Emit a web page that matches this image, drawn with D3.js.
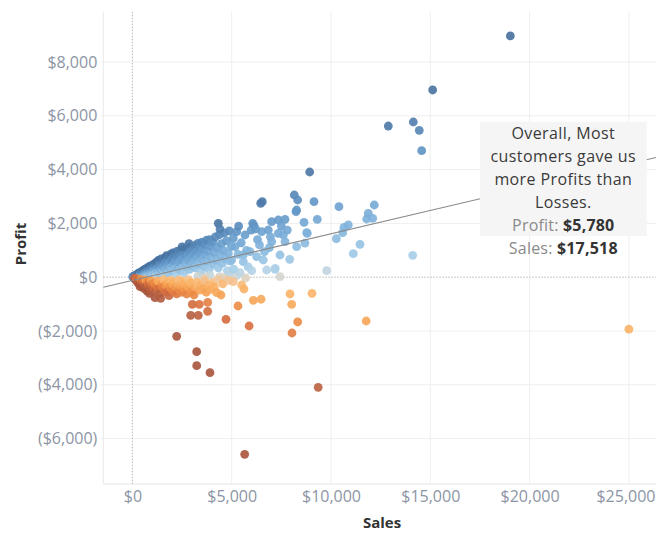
<!DOCTYPE html>
<html><head><meta charset="utf-8">
<script src="https://cdn.jsdelivr.net/npm/d3@7"></script>
<style>body{margin:0;background:#fff}svg{display:block}</style>
</head><body>
<svg id="chart" width="656" height="533"></svg>
<script>
// ---------- data ----------
const xTicks = [0, 5000, 10000, 15000, 20000, 25000];
const yTicks = [-6000, -4000, -2000, 0, 2000, 4000, 6000, 8000];
const xTitle = "Sales";
const yTitle = "Profit";

// [sales, profit] per customer
const customers = [
  // blue cluster, sales 0-600
  [20,8],[45,15],[60,30],[75,12],[90,40],[110,22],[130,55],[150,35],[170,70],[190,48],
  [210,90],[230,60],[250,110],[270,30],[290,130],[310,80],[330,150],[350,45],[370,170],[390,110],
  [410,60],[430,190],[450,140],[470,85],[490,220],[510,30],[530,160],[550,250],[570,100],[590,200],
  // 600-1200
  [620,290],[640,140],[660,60],[680,230],[700,320],[720,180],[740,90],[760,350],[780,260],[800,140],
  [820,40],[840,390],[860,210],[880,300],[900,110],[920,420],[940,250],[960,170],[980,360],[1000,70],
  [1020,450],[1040,300],[1060,200],[1080,120],[1100,500],[1120,380],[1140,260],[1160,150],[1180,470],[1200,30],
  // 1200-2000
  [1220,560],[1250,330],[1280,210],[1300,620],[1330,430],[1360,120],[1390,540],[1420,300],[1450,680],[1480,470],
  [1510,200],[1540,610],[1570,390],[1600,90],[1630,720],[1660,520],[1690,280],[1720,800],[1750,600],[1780,420],
  [1810,160],[1840,760],[1870,540],[1900,340],[1930,860],[1960,650],[1990,230],
  // 2000-3000
  [2030,900],[2060,720],[2090,480],[2120,310],[2150,830],[2180,600],[2210,120],[2240,960],[2270,750],[2300,420],
  [2330,880],[2360,560],[2390,260],[2420,1000],[2450,790],[2480,640],[2510,350],[2540,930],[2570,700],[2600,180],
  [2630,1050],[2660,850],[2690,520],[2720,960],[2750,400],[2780,780],[2810,1080],[2840,620],[2870,290],[2900,900],
  [2930,1120],[2960,700],[2990,450],[2500,1130],[2850,1250],
  // 3000-4000
  [3020,1000],[3060,820],[3100,560],[3140,1180],[3180,350],[3220,940],[3260,700],[3300,1260],[3340,480],[3380,1080],
  [3420,860],[3460,200],[3500,1300],[3540,640],[3580,1000],[3620,420],[3660,1200],[3700,780],[3740,1380],[3780,560],
  [3820,950],[3860,300],[3900,1400],[3940,1150],[3980,700],
  // 4000-5000
  [4040,1300],[4080,480],[4130,900],[4180,1500],[4230,620],[4280,1100],[4330,350],[4380,1580],[4430,820],[4480,1250],
  [4530,520],[4580,1000],[4630,1650],[4680,700],[4730,1350],[4780,240],[4830,900],[4880,1720],[4930,600],[4980,1150],
  [4326,2004],[4411,1792],
  // near-zero, 3000-6000
  [3300,40],[3900,80],[4400,20],[4900,150],[5250,60],[5700,-30],[4600,-40],[3650,-20],
  // 5000-6000
  [5000,639],[5080,1450],[5166,1134],[5252,1691],[5320,850],[5418,167],[5480,1280],[5584,825],[5584,576],[5670,1569],
  [5750,1000],[5830,380],[5922,948],[5980,1750],[5100,300],[5350,1900],
  // 6000-7000
  [6007,242],[6057,2004],[6122,1915],[6258,762],[6300,1400],[6460,2747],[6541,2807],[6510,1691],[6591,639],[6762,268],
  [6843,1755],[6900,1100],[6950,1500],[7013,2063],[7013,1320],[6200,1800],[6400,1200],[6650,950],
  // 7000-10000
  [7180,294],[7190,330],[7347,2126],[7347,1632],[7432,19],[7432,825],[7600,1569],[7684,2152],[7684,1320],[7920,665],
  [8152,3056],[8237,2435],[8271,1134],[8271,2498],[8322,2870],[8640,2041],[8690,1270],[8776,1654],[8807,1632],[8927,3911],
  [9144,2807],[9310,2152],[9783,242],[7500,1900],[7800,1750],
  // 10000-15000
  [10270,1430],[10400,2620],[10589,1654],[10655,1855],[10871,1941],[11123,874],[11460,1223],[11797,2164],[11878,2375],[12100,2190],
  [12180,2684],[14114,814],
  // top outliers
  [12885,5620],[14145,5770],[14445,5460],[14567,4703],[15120,6960],[19030,8970],
  // losses near origin
  [100,-40],[150,-90],[200,-60],[250,-180],[300,-120],[350,-260],[383,-353],[420,-80],[460,-210],[500,-320],
  [540,-150],[580,-420],[620,-260],[660,-100],[700,-350],[740,-520],[780,-190],[820,-300],[860,-600],[900,-440],
  [950,-140],[1000,-280],[1050,-380],[1100,-220],[1138,-762],[1180,-500],[1230,-330],[1280,-150],[1330,-420],[1380,-600],
  [1425,-785],[1480,-260],[1530,-380],[1580,-90],[1630,-480],[1680,-300],[1730,-560],[1780,-200],[1843,-688],[1880,-350],
  [1930,-120],[1980,-450],
  // losses 2000-3000
  [2030,-280],[2080,-520],[2130,-180],[2180,-380],[2230,-620],[2280,-240],[2330,-100],[2380,-460],[2430,-300],[2480,-560],
  [2530,-150],[2580,-400],[2630,-250],[2680,-480],[2734,-624],[2780,-320],[2830,-90],[2880,-420],[2930,-200],[2980,-540],
  // losses 3000-4500
  [3016,-1007],[3100,-662],[3150,-350],[3237,-2770],[3237,-3290],[3250,-180],[3320,-1416],[3370,-1007],[3400,-480],[3480,-260],
  [3560,-420],[3640,-120],[3720,-560],[3790,-1268],[3790,-933],[3850,-300],[3907,-3550],[3950,-450],[4050,-200],[4124,-353],
  [4244,-576],[4300,-80],[4461,-662],[4550,-250],[2230,-2197],[2935,-1416],
  // losses 4500+
  [4713,-1565],[4850,-120],[5081,-167],[5317,-1071],[5503,-290],[5619,-439],[5654,-6584],[5877,-1814],[6090,-860],[6480,-820],
  [7936,-624],[8020,-1007],[8036,-2074],[8322,-1665],[9043,-600],[9355,-4093],[11774,-1628],[25000,-1933]
];

// linear trend of profit on sales
const trendSlope = 0.1734;
const trendIntercept = -120;

// annotation
const noteTitle = ["Overall, Most", "customers gave us", "more Profits than", "Losses."];
const noteProfit = 5780;
const noteSales = 17518;

// ---------- drawing ----------
const W = 656;
const svg = d3.select("#chart");
const FONT = "'Open Sans', 'Noto Sans', sans-serif";
const plot = {left: 103.3, right: 656, top: 11.7, bottom: 484};

const x = d3.scaleLinear().domain([-1465, 26365]).range([plot.left, plot.right]);
const y = d3.scaleLinear().domain([-7688, 9870]).range([plot.bottom, plot.top]);

const money = v => v < 0 ? "($" + d3.format(",")(-v) + ")" : "$" + d3.format(",")(v);

// ratio -> colour (orange-blue diverging)
const color = d3.scaleLinear()
  .domain([-0.7, -0.44, -0.31, -0.2, -0.14, -0.066, -0.02, 0, 0.025, 0.05, 0.1, 0.22, 0.32, 0.47])
  .range(["#a9543c", "#b9603f", "#d86f3f", "#ec8c44", "#f6a656", "#fbb56a", "#f3c59a", "#d6d5cc",
          "#c0d5e0", "#a9cfea", "#96c3e4", "#74a9d6", "#5f93c4", "#46709e"])
  .clamp(true);

// gridlines
const grid = svg.append("g");
grid.selectAll("line.gx").data(xTicks.filter(d => d !== 0)).join("line")
  .attr("x1", d => x(d)).attr("x2", d => x(d))
  .attr("y1", plot.top).attr("y2", plot.bottom)
  .attr("stroke", "#efefef").attr("stroke-width", 1);
grid.selectAll("line.gy").data(yTicks.filter(d => d !== 0)).join("line")
  .attr("x1", plot.left - 3).attr("x2", plot.right)
  .attr("y1", d => y(d)).attr("y2", d => y(d))
  .attr("stroke", "#efefef").attr("stroke-width", 1);

// plot frame (left and bottom)
svg.append("line").attr("x1", plot.left).attr("x2", plot.left).attr("y1", plot.top).attr("y2", plot.bottom)
  .attr("stroke", "#e9e9e9");
svg.append("line").attr("x1", plot.left).attr("x2", plot.right).attr("y1", plot.bottom).attr("y2", plot.bottom)
  .attr("stroke", "#e6e6e6");

// zero lines (dotted)
svg.append("line").attr("x1", x(0)).attr("x2", x(0)).attr("y1", plot.top).attr("y2", plot.bottom)
  .attr("stroke", "#b8b8b8").attr("stroke-dasharray", "1.5,1.5");
svg.append("line").attr("x1", plot.left).attr("x2", plot.right).attr("y1", y(0)).attr("y2", y(0))
  .attr("stroke", "#b8b8b8").attr("stroke-dasharray", "1.5,1.5");

// points
svg.append("g").selectAll("circle").data(customers).join("circle")
  .attr("cx", d => x(d[0])).attr("cy", d => y(d[1])).attr("r", 4.4)
  .attr("fill", d => color(d[1] / d[0]))
  .attr("fill-opacity", 0.9);

// trend line
const tx0 = x.domain()[0], tx1 = x.domain()[1];
svg.append("line")
  .attr("x1", x(tx0)).attr("y1", y(trendSlope * tx0 + trendIntercept))
  .attr("x2", x(tx1)).attr("y2", y(trendSlope * tx1 + trendIntercept))
  .attr("stroke", "#8a8a8a").attr("stroke-width", 1.1);

// axes
const yAxis = svg.append("g").attr("transform", `translate(${plot.left},0)`)
  .call(d3.axisLeft(y).tickValues(yTicks).tickFormat(money).tickSize(0).tickPadding(6));
const xAxis = svg.append("g").attr("transform", `translate(0,${plot.bottom})`)
  .call(d3.axisBottom(x).tickValues(xTicks).tickFormat(money).tickSize(0).tickPadding(7));
[yAxis, xAxis].forEach(a => {
  a.select(".domain").remove();
  a.selectAll("text").attr("font-family", FONT).attr("font-size", 16).attr("fill", "#8c95a4");
});
// keep the last x label inside the picture
xAxis.selectAll(".tick").each(function(d) {
  const t = d3.select(this).select("text");
  const bb = this.querySelector("text").getBBox();
  const right = x(d) + bb.x + bb.width;
  if (right > W - 1) t.attr("dx", (W - 1 - right) + "px");
});

// axis titles
svg.append("text").attr("transform", "translate(26,244) rotate(-90)")
  .attr("text-anchor", "middle").attr("font-family", FONT).attr("font-size", 15)
  .attr("font-weight", "bold").attr("fill", "#333").text(yTitle);
svg.append("text").attr("x", 382).attr("y", 528)
  .attr("text-anchor", "middle").attr("font-family", FONT).attr("font-size", 15)
  .attr("font-weight", "bold").attr("fill", "#333").text(xTitle);

// annotation box
const note = svg.append("g");
note.append("rect").attr("x", 480).attr("y", 121.7).attr("width", 166.7).attr("height", 114.3)
  .attr("fill", "#f5f5f5");
const cx = 563.3, lh = 22.9, base0 = 139.3;
noteTitle.forEach((t, i) => {
  note.append("text").attr("x", cx).attr("y", base0 + i * lh).attr("text-anchor", "middle")
    .attr("font-family", FONT).attr("font-size", 16).attr("letter-spacing", 0.4)
    .attr("fill", "#3a3a3a").text(t);
});
[["Profit: ", noteProfit], ["Sales: ", noteSales]].forEach((p, i) => {
  const t = note.append("text").attr("x", cx).attr("y", base0 + (4 + i) * lh).attr("text-anchor", "middle")
    .attr("font-family", FONT).attr("font-size", 16).attr("letter-spacing", 0.2);
  t.append("tspan").attr("fill", "#8a8a8a").text(p[0]);
  t.append("tspan").attr("fill", "#333").attr("font-weight", "bold").text(money(p[1]));
});
</script>
</body></html>
